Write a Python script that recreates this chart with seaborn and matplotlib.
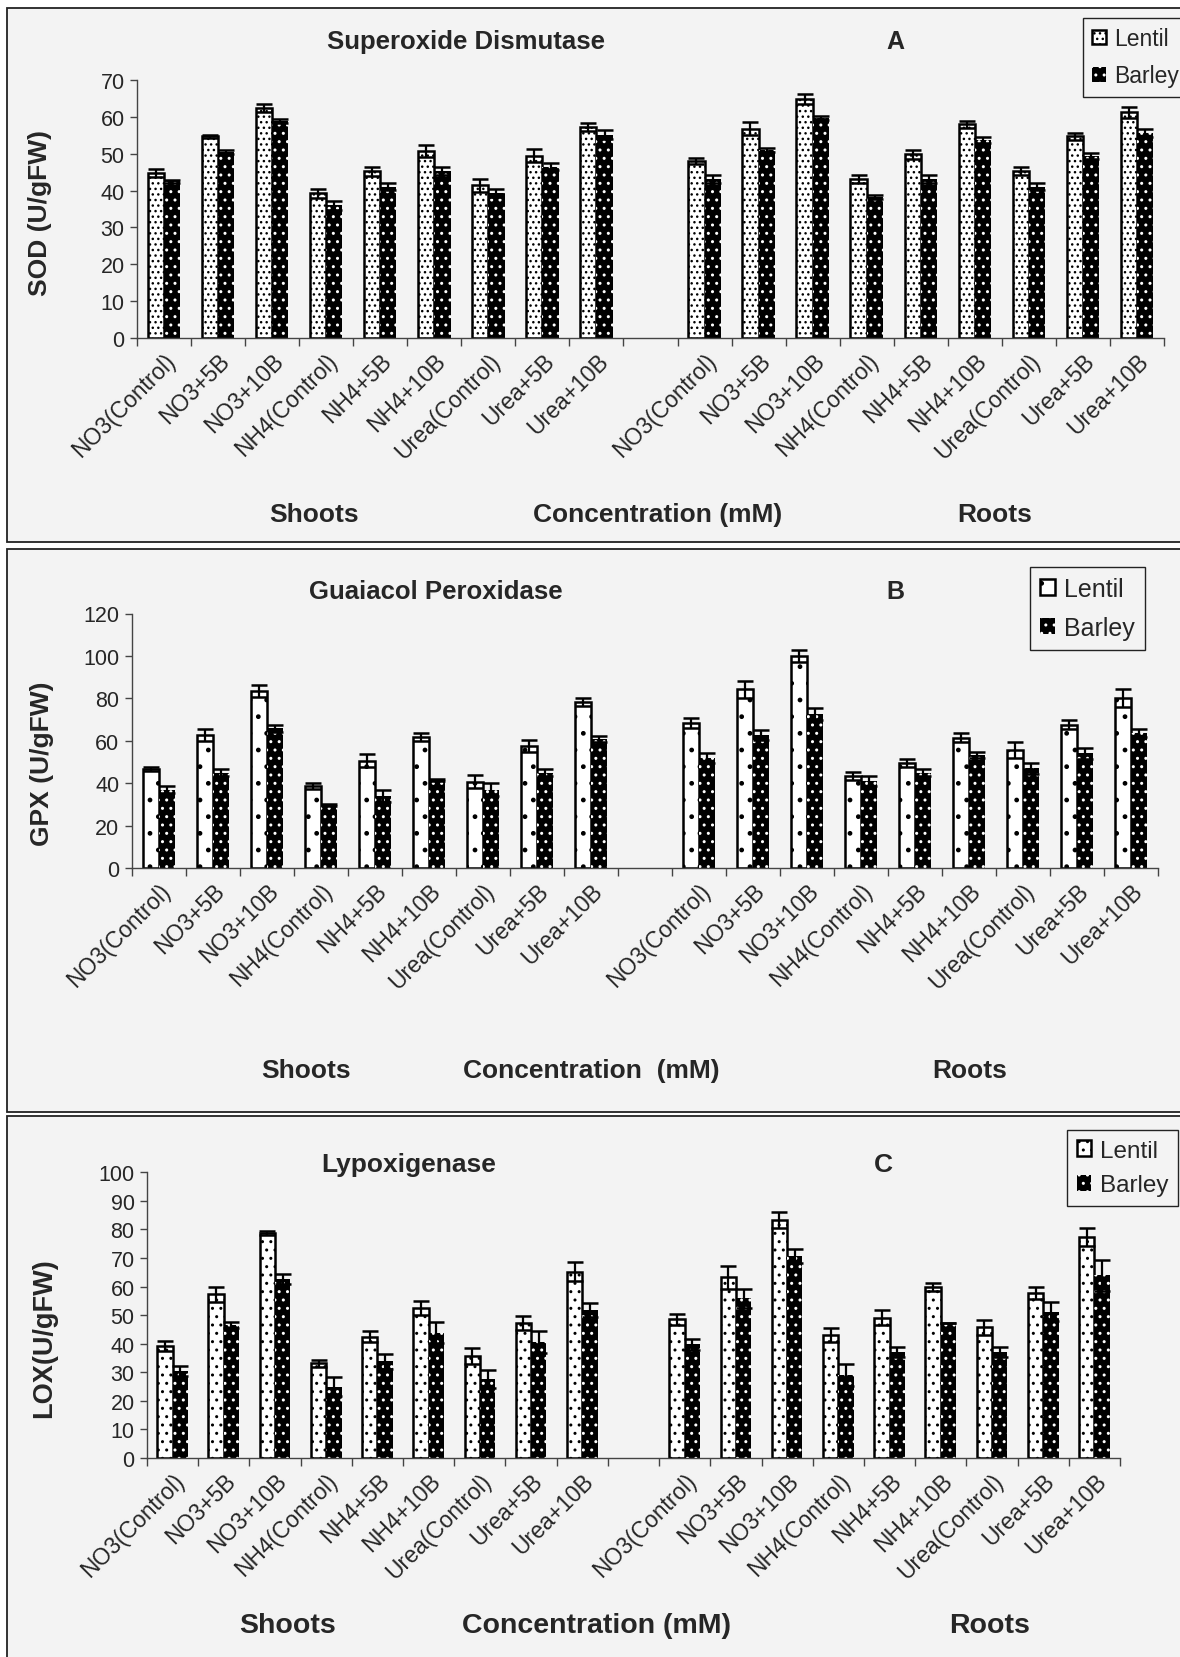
import pandas as pd
import seaborn as sns
import matplotlib.pyplot as plt
from matplotlib.patches import Rectangle
from matplotlib.transforms import ScaledTranslation

treatments = ['NO3(Control)', 'NO3+5B', 'NO3+10B', 'NH4(Control)', 'NH4+5B', 'NH4+10B',
              'Urea(Control)', 'Urea+5B', 'Urea+10B']
species = ['Lentil', 'Barley']

# Superoxide dismutase (U/gFW)
sod_shoot_lentil = [44.8, 54.7, 62.4, 39.3, 45.2, 50.7, 41.4, 49.5, 57.3]
sod_shoot_lentil_err = [1.1, 0.5, 1.0, 1.2, 1.3, 1.7, 1.8, 1.8, 1.1]
sod_shoot_barley = [42.5, 50.5, 58.9, 36.0, 41.1, 45.4, 39.4, 46.5, 55.2]
sod_shoot_barley_err = [0.5, 0.5, 0.5, 1.2, 0.9, 1.1, 1.1, 1.0, 1.2]
sod_root_lentil = [48.0, 56.8, 64.9, 43.2, 49.8, 58.0, 45.3, 54.7, 61.3]
sod_root_lentil_err = [0.8, 1.8, 1.4, 1.1, 1.1, 1.0, 1.2, 1.0, 1.5]
sod_root_barley = [43.2, 51.0, 59.7, 38.3, 43.2, 53.8, 41.1, 49.4, 55.7]
sod_root_barley_err = [1.1, 0.5, 0.5, 0.6, 1.1, 0.8, 0.9, 0.9, 1.1]

# Guaiacol peroxidase (U/gFW)
gpx_shoot_lentil = [46.6, 62.7, 83.4, 38.6, 50.6, 61.6, 40.7, 57.6, 78.2]
gpx_shoot_lentil_err = [1.0, 2.8, 2.8, 1.3, 3.1, 1.9, 3.0, 2.8, 1.9]
gpx_shoot_barley = [36.9, 44.9, 65.8, 29.5, 33.9, 41.5, 36.9, 44.9, 60.8]
gpx_shoot_barley_err = [1.7, 1.7, 1.7, 0.5, 2.8, 0.5, 3.0, 1.7, 1.5]
gpx_root_lentil = [68.3, 84.3, 100.0, 43.5, 49.5, 61.4, 55.6, 67.5, 80.2]
gpx_root_lentil_err = [2.2, 4.0, 3.0, 1.9, 2.0, 2.1, 3.9, 2.1, 4.1]
gpx_root_barley = [51.8, 62.8, 72.6, 41.0, 44.9, 53.1, 47.0, 54.0, 63.7]
gpx_root_barley_err = [2.5, 2.5, 2.8, 2.5, 1.7, 1.4, 2.5, 2.5, 1.8]

# Lypoxigenase (U/gFW)
lox_shoot_lentil = [39.1, 57.3, 78.8, 33.1, 42.5, 52.5, 35.7, 47.3, 65.2]
lox_shoot_lentil_err = [1.8, 2.6, 0.7, 1.2, 1.8, 2.6, 2.7, 2.5, 3.4]
lox_shoot_barley = [30.5, 46.6, 62.7, 25.0, 33.8, 43.9, 27.7, 40.5, 51.9]
lox_shoot_barley_err = [1.7, 1.1, 1.8, 3.2, 2.5, 3.8, 3.2, 3.8, 2.5]
lox_root_lentil = [48.5, 63.2, 83.3, 43.1, 49.1, 59.9, 45.7, 57.9, 77.4]
lox_root_lentil_err = [1.9, 4.0, 2.8, 2.5, 2.7, 1.4, 2.7, 2.1, 3.2]
lox_root_barley = [39.8, 55.9, 70.7, 29.1, 37.1, 47.1, 37.2, 51.2, 63.9]
lox_root_barley_err = [1.9, 3.3, 2.6, 3.8, 1.9, 0.0, 1.8, 3.3, 5.4]

# 9 shoot slots, one empty slot, 9 root slots
slots = ['S:' + t for t in treatments] + ['gap'] + ['R:' + t for t in treatments]
tick_labels = treatments + [''] + treatments

W, H = 1180, 1658
BG = '#f3f3f3'

sns.set_style('ticks')
plt.rcParams['font.family'] = ['Liberation Sans', 'DejaVu Sans']
plt.rcParams['hatch.linewidth'] = 1.0

fig = plt.figure(figsize=(W / 100, H / 100), dpi=100)
fig.patch.set_facecolor('white')


def fx(x):
    return x / W


def fy(y):
    return 1 - y / H


def make_frame(sl, sle, sb, sbe, rl, rle, rb, rbe):
    rows = []
    for i, t in enumerate(treatments):
        rows.append(('S:' + t, 'Lentil', sl[i], sle[i]))
        rows.append(('S:' + t, 'Barley', sb[i], sbe[i]))
        rows.append(('R:' + t, 'Lentil', rl[i], rle[i]))
        rows.append(('R:' + t, 'Barley', rb[i], rbe[i]))
    return pd.DataFrame(rows, columns=['slot', 'species', 'value', 'err'])


def panel(df, box, axbox, ymax, ystep, texts, legend_at, hatches, fs):
    # grey panel with a thin frame
    bx0, by0, bx1, by1 = box
    fig.add_artist(Rectangle((fx(bx0), fy(by1)), fx(bx1 - bx0), (by1 - by0) / H,
                             transform=fig.transFigure, facecolor=BG,
                             edgecolor='#222222', lw=1.3, zorder=-1))
    left, right, top, bottom = axbox
    ax = fig.add_axes([fx(left), fy(bottom), fx(right - left), (bottom - top) / H])
    ax.set_facecolor('none')

    sns.barplot(data=df, x='slot', y='value', hue='species', order=slots,
                hue_order=species, palette={'Lentil': 'white', 'Barley': 'black'},
                saturation=1, width=0.6, errorbar=None, legend=False, ax=ax)

    err = df.set_index(['slot', 'species'])['err']
    for cont, sp in zip(ax.containers, species):
        xs, ys, es = [], [], []
        for p in cont:
            if sp == 'Lentil':
                p.set_facecolor('white')
                p.set_edgecolor('black')
                p.set_hatch(hatches[0])
                p.set_linewidth(1.8)
            else:
                p.set_facecolor('black')
                p.set_edgecolor('white')
                p.set_hatch(hatches[1])
                p.set_linewidth(0)
            xc = p.get_x() + p.get_width() / 2
            slot = slots[int(round(xc))]
            xs.append(xc)
            ys.append(p.get_height())
            es.append(err[(slot, sp)])
        ax.errorbar(xs, ys, yerr=es, fmt='none', ecolor='black', elinewidth=1.6,
                    capsize=5.5, capthick=1.8, zorder=4)

    ax.set_xlim(-0.5, len(slots) - 0.5)
    ax.set_ylim(0, ymax)
    ax.set_yticks(range(0, ymax + 1, ystep))
    ax.set_xticks(range(len(slots)))
    ax.set_xticklabels(tick_labels, rotation=45, ha='right', va='top',
                       rotation_mode='anchor', fontsize=fs['xt'])
    shift = ScaledTranslation(-17 / 100, 0, fig.dpi_scale_trans)
    for lab in ax.get_xticklabels():
        lab.set_transform(lab.get_transform() + shift)
    ax.set_xticks([i - 0.5 for i in range(len(slots) + 1)], minor=True)
    ax.tick_params(axis='x', which='major', length=0, pad=8)
    ax.tick_params(axis='x', which='minor', length=6, width=1, color='#444444')
    ax.tick_params(axis='y', length=5, width=1, color='#444444', labelsize=fs['yt'], pad=4)
    ax.set_xlabel('')
    ax.set_ylabel('')
    for s in ['top', 'right']:
        ax.spines[s].set_visible(False)
    for s in ['left', 'bottom']:
        ax.spines[s].set_color('#444444')
        ax.spines[s].set_linewidth(1.0)

    for s, (x, y), size, rot in texts:
        fig.text(fx(x), fy(y), s, ha='center', va='center', fontsize=size,
                 fontweight='bold', rotation=rot)

    lx, ly = legend_at
    leg = ax.legend(handles=list(ax.containers), labels=species, loc='upper left',
                    bbox_to_anchor=(fx(lx), fy(ly)), bbox_transform=fig.transFigure,
                    borderaxespad=0, fancybox=False, edgecolor='#222222', facecolor=BG,
                    framealpha=1, fontsize=fs['leg'], handlelength=0.6, handleheight=0.6,
                    handletextpad=0.35, labelspacing=fs['ls'], borderpad=0.4)
    leg.get_frame().set_linewidth(1.0)
    return ax


sod = make_frame(sod_shoot_lentil, sod_shoot_lentil_err, sod_shoot_barley, sod_shoot_barley_err,
                 sod_root_lentil, sod_root_lentil_err, sod_root_barley, sod_root_barley_err)
gpx = make_frame(gpx_shoot_lentil, gpx_shoot_lentil_err, gpx_shoot_barley, gpx_shoot_barley_err,
                 gpx_root_lentil, gpx_root_lentil_err, gpx_root_barley, gpx_root_barley_err)
lox = make_frame(lox_shoot_lentil, lox_shoot_lentil_err, lox_shoot_barley, lox_shoot_barley_err,
                 lox_root_lentil, lox_root_lentil_err, lox_root_barley, lox_root_barley_err)

panel(sod, (7, 9, 1200, 543), (137, 1164, 81, 339), 70, 10,
      [('Superoxide Dismutase', (466, 42), 18.5, 0), ('A', (895, 42), 18, 0),
       ('SOD (U/gFW)', (40, 213), 19, 90), ('Shoots', (314, 515), 19, 0),
       ('Concentration (mM)', (658, 515), 19, 0), ('Roots', (995, 515), 19, 0)],
      (1083, 19), ('...', '..'), {'xt': 16.5, 'yt': 15.5, 'leg': 16.5, 'ls': 0.62})

panel(gpx, (7, 550, 1200, 1113), (132, 1158, 614.5, 869), 120, 20,
      [('Guaiacol Peroxidase', (436, 592), 18.5, 0), ('B', (895, 592), 18, 0),
       ('GPX (U/gFW)', (42, 764), 19, 90), ('Shoots', (306, 1071), 19, 0),
       ('Concentration  (mM)', (591, 1071), 19, 0), ('Roots', (970, 1071), 19, 0)],
      (1030, 568), ('.', '..'), {'xt': 16.5, 'yt': 15.5, 'leg': 18, 'ls': 0.6})

panel(lox, (7, 1117, 1200, 1700), (147, 1120, 1173.3, 1459), 100, 10,
      [('Lypoxigenase', (409, 1165), 19, 0), ('C', (883, 1165), 19, 0),
       ('LOX(U/gFW)', (44, 1338), 19.5, 90), ('Shoots', (288, 1626), 20.5, 0),
       ('Concentration (mM)', (596, 1626), 20.5, 0), ('Roots', (990, 1626), 20.5, 0)],
      (1067, 1131), ('..', '..'), {'xt': 16.5, 'yt': 15.5, 'leg': 17.5, 'ls': 0.52})

fig.savefig('out.png', dpi=100)
